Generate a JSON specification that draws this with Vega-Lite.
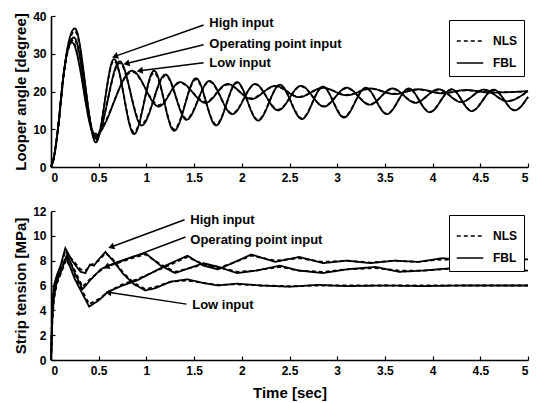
{
  "$schema": "https://vega.github.io/schema/vega-lite/v6.json",
  "background": "white",
  "padding": {"left": 13, "top": 10, "right": 6, "bottom": 4},
  "spacing": 22,
  "config": {
    "view": {"stroke": null},
    "font": "Liberation Sans",
    "axis": {
      "grid": false,
      "domainColor": "black",
      "domainWidth": 1.6,
      "tickColor": "black",
      "tickWidth": 1.2,
      "tickSize": -4,
      "labelPadding": 9,
      "labelOverlap": false,
      "labelColor": "black",
      "labelFont": "Liberation Sans",
      "labelFontSize": 12,
      "labelFontWeight": "bold",
      "titleColor": "black",
      "titleFont": "Liberation Sans",
      "titleFontSize": 15,
      "titleFontWeight": "bold"
    },
    "axisX": {"titlePadding": 9},
    "legend": {
      "title": null,
      "orient": "top-right",
      "offset": 4,
      "strokeColor": "black",
      "fillColor": "white",
      "padding": 7,
      "symbolType": "stroke",
      "symbolSize": 700,
      "symbolStrokeWidth": 1.3,
      "symbolStrokeColor": "black",
      "labelFont": "Liberation Sans",
      "labelFontSize": 12,
      "labelFontWeight": "bold",
      "labelColor": "black",
      "rowPadding": 2,
      "labelOffset": 9
    }
  },
  "resolve": {"legend": {"strokeDash": "independent"}},
  "datasets": {
    "angle": [
      {"input":"High","t":0,"FBL":0,"NLS":0},{"input":"High","t":0.03,"FBL":2.5,"NLS":2.4},{"input":"High","t":0.07,"FBL":9.5,"NLS":9.3},{"input":"High","t":0.13,"FBL":24,"NLS":23.5},{"input":"High","t":0.18,"FBL":32.5,"NLS":32},{"input":"High","t":0.25,"FBL":36.7,"NLS":36},{"input":"High","t":0.47,"FBL":6.5,"NLS":7},{"input":"High","t":0.66,"FBL":28.6,"NLS":28.2},{"input":"High","t":0.87,"FBL":8.7,"NLS":9.2},{"input":"High","t":1.08,"FBL":25.5,"NLS":25},{"input":"High","t":1.29,"FBL":9.6,"NLS":10},{"input":"High","t":1.52,"FBL":23.5,"NLS":23.2},{"input":"High","t":1.73,"FBL":11,"NLS":11.3},{"input":"High","t":1.95,"FBL":22.5,"NLS":22.3},{"input":"High","t":2.17,"FBL":12.3,"NLS":12.5},{"input":"High","t":2.4,"FBL":21.8,"NLS":21.7},{"input":"High","t":2.63,"FBL":12.7,"NLS":12.9},{"input":"High","t":2.85,"FBL":21.3,"NLS":21.2},{"input":"High","t":3.07,"FBL":13.1,"NLS":13.3},{"input":"High","t":3.3,"FBL":21,"NLS":20.9},{"input":"High","t":3.52,"FBL":14,"NLS":14.1},{"input":"High","t":3.75,"FBL":20.8,"NLS":20.7},{"input":"High","t":3.97,"FBL":14.5,"NLS":14.6},{"input":"High","t":4.2,"FBL":20.6,"NLS":20.5},{"input":"High","t":4.41,"FBL":14.8,"NLS":14.9},{"input":"High","t":4.64,"FBL":20.5,"NLS":20.4},{"input":"High","t":4.86,"FBL":15,"NLS":15.1},{"input":"High","t":5,"FBL":18.6,"NLS":18.5},
      {"input":"Operating","t":0,"FBL":0,"NLS":0},{"input":"Operating","t":0.03,"FBL":2.5,"NLS":2.6},{"input":"Operating","t":0.07,"FBL":9.5,"NLS":9.6},{"input":"Operating","t":0.13,"FBL":24,"NLS":24.2},{"input":"Operating","t":0.18,"FBL":31.5,"NLS":31.2},{"input":"Operating","t":0.24,"FBL":34.3,"NLS":33.8},{"input":"Operating","t":0.47,"FBL":7.5,"NLS":8},{"input":"Operating","t":0.72,"FBL":28,"NLS":27.5},{"input":"Operating","t":0.95,"FBL":11,"NLS":11.5},{"input":"Operating","t":1.2,"FBL":24.5,"NLS":24.2},{"input":"Operating","t":1.42,"FBL":12.5,"NLS":12.8},{"input":"Operating","t":1.66,"FBL":22.8,"NLS":22.6},{"input":"Operating","t":1.9,"FBL":14,"NLS":14.2},{"input":"Operating","t":2.14,"FBL":22,"NLS":21.9},{"input":"Operating","t":2.38,"FBL":15,"NLS":15.2},{"input":"Operating","t":2.62,"FBL":21.5,"NLS":21.4},{"input":"Operating","t":2.86,"FBL":16,"NLS":16.1},{"input":"Operating","t":3.1,"FBL":21,"NLS":20.9},{"input":"Operating","t":3.34,"FBL":16.5,"NLS":16.6},{"input":"Operating","t":3.58,"FBL":20.8,"NLS":20.7},{"input":"Operating","t":3.82,"FBL":17,"NLS":17.1},{"input":"Operating","t":4.06,"FBL":20.6,"NLS":20.5},{"input":"Operating","t":4.3,"FBL":17.2,"NLS":17.3},{"input":"Operating","t":4.54,"FBL":20.5,"NLS":20.4},{"input":"Operating","t":4.78,"FBL":17.4,"NLS":17.5},{"input":"Operating","t":5,"FBL":20.2,"NLS":20.1},
      {"input":"Low","t":0,"FBL":0,"NLS":0},{"input":"Low","t":0.03,"FBL":2.5,"NLS":2.4},{"input":"Low","t":0.07,"FBL":9.5,"NLS":9.2},{"input":"Low","t":0.13,"FBL":24,"NLS":23.6},{"input":"Low","t":0.17,"FBL":30.5,"NLS":30},{"input":"Low","t":0.22,"FBL":33,"NLS":33.5},{"input":"Low","t":0.46,"FBL":8.3,"NLS":8.8},{"input":"Low","t":0.85,"FBL":25.5,"NLS":25.2},{"input":"Low","t":1.13,"FBL":16,"NLS":16.4},{"input":"Low","t":1.35,"FBL":22.5,"NLS":22.3},{"input":"Low","t":1.62,"FBL":17,"NLS":17.3},{"input":"Low","t":1.85,"FBL":22,"NLS":21.8},{"input":"Low","t":2.1,"FBL":18,"NLS":18.2},{"input":"Low","t":2.35,"FBL":21.5,"NLS":21.4},{"input":"Low","t":2.6,"FBL":18.5,"NLS":18.6},{"input":"Low","t":2.85,"FBL":21,"NLS":20.9},{"input":"Low","t":3.1,"FBL":19,"NLS":19.1},{"input":"Low","t":3.35,"FBL":20.8,"NLS":20.7},{"input":"Low","t":3.6,"FBL":19.3,"NLS":19.4},{"input":"Low","t":3.85,"FBL":20.6,"NLS":20.5},{"input":"Low","t":4.1,"FBL":19.5,"NLS":19.6},{"input":"Low","t":4.35,"FBL":20.4,"NLS":20.3},{"input":"Low","t":4.6,"FBL":19.7,"NLS":19.8},{"input":"Low","t":5,"FBL":20.1,"NLS":20}
    ],
    "tension": [
      {"input":"High","t":0,"FBL":0,"NLS":0},{"input":"High","t":0.015,"FBL":4.5,"NLS":4.2},{"input":"High","t":0.03,"FBL":6,"NLS":5.8},{"input":"High","t":0.06,"FBL":6.8,"NLS":6.6},{"input":"High","t":0.1,"FBL":7.6,"NLS":7.4},{"input":"High","t":0.15,"FBL":9,"NLS":8.8},{"input":"High","t":0.22,"FBL":8,"NLS":8.1},{"input":"High","t":0.31,"FBL":7.1,"NLS":7.3},{"input":"High","t":0.36,"FBL":7,"NLS":7.2},{"input":"High","t":0.41,"FBL":7.7,"NLS":7.6},{"input":"High","t":0.45,"FBL":7.6,"NLS":7.8},{"input":"High","t":0.5,"FBL":8.1,"NLS":8},{"input":"High","t":0.57,"FBL":8.7,"NLS":8.6},{"input":"High","t":0.65,"FBL":8,"NLS":8.1},{"input":"High","t":0.76,"FBL":6.9,"NLS":7},{"input":"High","t":0.87,"FBL":6.1,"NLS":6.2},{"input":"High","t":0.99,"FBL":5.6,"NLS":5.7},{"input":"High","t":1.1,"FBL":5.8,"NLS":5.9},{"input":"High","t":1.25,"FBL":6.3,"NLS":6.3},{"input":"High","t":1.43,"FBL":6.5,"NLS":6.4},{"input":"High","t":1.6,"FBL":6.2,"NLS":6.2},{"input":"High","t":1.75,"FBL":6,"NLS":6.05},{"input":"High","t":1.95,"FBL":6.15,"NLS":6.1},{"input":"High","t":2.2,"FBL":6,"NLS":6},{"input":"High","t":2.5,"FBL":5.9,"NLS":5.95},{"input":"High","t":2.8,"FBL":6.05,"NLS":6},{"input":"High","t":3.1,"FBL":5.95,"NLS":6},{"input":"High","t":3.5,"FBL":6,"NLS":6},{"input":"High","t":3.9,"FBL":5.95,"NLS":6},{"input":"High","t":4.3,"FBL":6,"NLS":6},{"input":"High","t":4.7,"FBL":6,"NLS":6},{"input":"High","t":5,"FBL":6,"NLS":6},
      {"input":"Operating","t":0,"FBL":0,"NLS":0},{"input":"Operating","t":0.015,"FBL":4,"NLS":3.8},{"input":"Operating","t":0.03,"FBL":5.5,"NLS":5.3},{"input":"Operating","t":0.06,"FBL":6.6,"NLS":6.4},{"input":"Operating","t":0.1,"FBL":7.2,"NLS":7.1},{"input":"Operating","t":0.17,"FBL":8.5,"NLS":8.3},{"input":"Operating","t":0.25,"FBL":7,"NLS":7.2},{"input":"Operating","t":0.33,"FBL":5.7,"NLS":5.9},{"input":"Operating","t":0.42,"FBL":6.5,"NLS":6.6},{"input":"Operating","t":0.52,"FBL":7.3,"NLS":7.2},{"input":"Operating","t":0.6,"FBL":7.6,"NLS":7.6},{"input":"Operating","t":0.7,"FBL":7.9,"NLS":7.8},{"input":"Operating","t":0.85,"FBL":8.3,"NLS":8.2},{"input":"Operating","t":0.99,"FBL":8.6,"NLS":8.5},{"input":"Operating","t":1.15,"FBL":7.6,"NLS":7.7},{"input":"Operating","t":1.3,"FBL":7,"NLS":7.1},{"input":"Operating","t":1.45,"FBL":7.4,"NLS":7.4},{"input":"Operating","t":1.6,"FBL":7.8,"NLS":7.7},{"input":"Operating","t":1.75,"FBL":7.5,"NLS":7.5},{"input":"Operating","t":1.95,"FBL":7,"NLS":7.1},{"input":"Operating","t":2.15,"FBL":7.2,"NLS":7.2},{"input":"Operating","t":2.4,"FBL":7.6,"NLS":7.5},{"input":"Operating","t":2.6,"FBL":7.2,"NLS":7.2},{"input":"Operating","t":2.85,"FBL":7,"NLS":7.1},{"input":"Operating","t":3.1,"FBL":7.3,"NLS":7.3},{"input":"Operating","t":3.4,"FBL":7.5,"NLS":7.4},{"input":"Operating","t":3.65,"FBL":7.1,"NLS":7.2},{"input":"Operating","t":3.9,"FBL":7.2,"NLS":7.2},{"input":"Operating","t":4.2,"FBL":7.4,"NLS":7.35},{"input":"Operating","t":4.5,"FBL":7.2,"NLS":7.2},{"input":"Operating","t":4.8,"FBL":7.25,"NLS":7.25},{"input":"Operating","t":5,"FBL":7.2,"NLS":7.2},
      {"input":"Low","t":0,"FBL":0,"NLS":0},{"input":"Low","t":0.015,"FBL":3.5,"NLS":3.3},{"input":"Low","t":0.03,"FBL":5,"NLS":4.8},{"input":"Low","t":0.06,"FBL":6.3,"NLS":6.1},{"input":"Low","t":0.1,"FBL":7,"NLS":6.9},{"input":"Low","t":0.16,"FBL":8.3,"NLS":8.1},{"input":"Low","t":0.25,"FBL":6.5,"NLS":6.7},{"input":"Low","t":0.4,"FBL":4.3,"NLS":4.5},{"input":"Low","t":0.5,"FBL":4.8,"NLS":4.9},{"input":"Low","t":0.6,"FBL":5.5,"NLS":5.5},{"input":"Low","t":0.75,"FBL":6,"NLS":6.1},{"input":"Low","t":0.9,"FBL":6.4,"NLS":6.5},{"input":"Low","t":1.05,"FBL":7,"NLS":7},{"input":"Low","t":1.2,"FBL":7.6,"NLS":7.5},{"input":"Low","t":1.43,"FBL":8.4,"NLS":8.3},{"input":"Low","t":1.6,"FBL":7.6,"NLS":7.7},{"input":"Low","t":1.75,"FBL":7.3,"NLS":7.4},{"input":"Low","t":1.9,"FBL":7.8,"NLS":7.8},{"input":"Low","t":2.1,"FBL":8.5,"NLS":8.4},{"input":"Low","t":2.35,"FBL":7.9,"NLS":8},{"input":"Low","t":2.6,"FBL":8.3,"NLS":8.2},{"input":"Low","t":2.85,"FBL":7.8,"NLS":7.9},{"input":"Low","t":3.1,"FBL":8,"NLS":8},{"input":"Low","t":3.35,"FBL":7.8,"NLS":7.85},{"input":"Low","t":3.6,"FBL":8,"NLS":8},{"input":"Low","t":3.85,"FBL":7.9,"NLS":7.9},{"input":"Low","t":4.1,"FBL":8.2,"NLS":8.1},{"input":"Low","t":4.4,"FBL":8,"NLS":8},{"input":"Low","t":4.7,"FBL":8.15,"NLS":8.1},{"input":"Low","t":5,"FBL":8.1,"NLS":8.1}
    ],
    "annTop": [
      {"label":"High input","tx":1.66,"ty":38.1,"x1":1.6,"y1":37.6,"x2":0.67,"y2":29.3,"ang":251},
      {"label":"Operating point input","tx":1.66,"ty":32.6,"x1":1.6,"y1":32.4,"x2":0.79,"y2":27.4,"ang":256},
      {"label":"Low input","tx":1.66,"ty":27.5,"x1":1.6,"y1":27.6,"x2":0.93,"y2":25.5,"ang":262}
    ],
    "annBottom": [
      {"label":"High input","tx":1.46,"ty":11.3,"x1":1.4,"y1":11.3,"x2":0.63,"y2":9.1,"ang":250},
      {"label":"Operating point input","tx":1.46,"ty":9.7,"x1":1.41,"y1":9.9,"x2":0.58,"y2":7.5,"ang":249},
      {"label":"Low input","tx":1.48,"ty":4.4,"x1":1.42,"y1":4.5,"x2":0.6,"y2":5.45,"ang":278}
    ]
  },
  "vconcat": [
    {
      "width": 477,
      "height": 151,
      "layer": [
        {
          "data": {"name": "angle"},
          "transform": [{"fold": ["NLS", "FBL"], "as": ["ctrl", "value"]}],
          "mark": {"type": "line", "interpolate": "monotone", "color": "black", "strokeWidth": 1.8},
          "encoding": {
            "x": {"field": "t", "type": "quantitative", "title": null, "scale": {"domain": [0, 5], "nice": false}, "axis": {"values": [0,0.5,1,1.5,2,2.5,3,3.5,4,4.5,5], "format": "~g"}},
            "y": {"field": "value", "type": "quantitative", "title": "Looper angle [degree]", "scale": {"domain": [0, 40], "nice": false}, "axis": {"values": [0,10,20,30,40]}},
            "strokeDash": {"field": "ctrl", "type": "nominal", "scale": {"domain": ["NLS", "FBL"], "range": [[4, 3], [1, 0]]}},
            "detail": {"field": "input"}
          }
        },
        {
          "data": {"name": "annTop"},
          "mark": {"type": "rule", "color": "black", "strokeWidth": 1.5},
          "encoding": {
            "x": {"field": "x1", "type": "quantitative", "title": null, "axis": {"values": [0,0.5,1,1.5,2,2.5,3,3.5,4,4.5,5], "format": "~g"}},
            "y": {"field": "y1", "type": "quantitative", "title": "Looper angle [degree]", "axis": {"values": [0,10,20,30,40]}},
            "x2": {"field": "x2"},
            "y2": {"field": "y2"}
          }
        },
        {
          "data": {"name": "annTop"},
          "mark": {"type": "point", "shape": "triangle-up", "filled": true, "color": "black", "size": 50, "opacity": 1},
          "encoding": {
            "x": {"field": "x2", "type": "quantitative", "title": null, "axis": {"values": [0,0.5,1,1.5,2,2.5,3,3.5,4,4.5,5], "format": "~g"}},
            "y": {"field": "y2", "type": "quantitative", "title": "Looper angle [degree]", "axis": {"values": [0,10,20,30,40]}},
            "angle": {"field": "ang", "type": "quantitative", "scale": null}
          }
        },
        {
          "data": {"name": "annTop"},
          "mark": {"type": "text", "align": "left", "baseline": "middle", "font": "Liberation Sans", "fontSize": 13, "fontWeight": "bold", "color": "black"},
          "encoding": {
            "x": {"field": "tx", "type": "quantitative", "title": null, "axis": {"values": [0,0.5,1,1.5,2,2.5,3,3.5,4,4.5,5], "format": "~g"}},
            "y": {"field": "ty", "type": "quantitative", "title": "Looper angle [degree]", "axis": {"values": [0,10,20,30,40]}},
            "text": {"field": "label"}
          }
        }
      ]
    },
    {
      "width": 477,
      "height": 149,
      "layer": [
        {
          "data": {"name": "tension"},
          "transform": [{"fold": ["NLS", "FBL"], "as": ["ctrl", "value"]}],
          "mark": {"type": "line", "interpolate": "linear", "color": "black", "strokeWidth": 1.8},
          "encoding": {
            "x": {"field": "t", "type": "quantitative", "title": "Time [sec]", "scale": {"domain": [0, 5], "nice": false}, "axis": {"values": [0,0.5,1,1.5,2,2.5,3,3.5,4,4.5,5], "format": "~g"}},
            "y": {"field": "value", "type": "quantitative", "title": "Strip tension [MPa]", "scale": {"domain": [0, 12], "nice": false}, "axis": {"values": [0,2,4,6,8,10,12]}},
            "strokeDash": {"field": "ctrl", "type": "nominal", "scale": {"domain": ["NLS", "FBL"], "range": [[4, 3], [1, 0]]}},
            "detail": {"field": "input"}
          }
        },
        {
          "data": {"name": "annBottom"},
          "mark": {"type": "rule", "color": "black", "strokeWidth": 1.5},
          "encoding": {
            "x": {"field": "x1", "type": "quantitative", "title": "Time [sec]", "axis": {"values": [0,0.5,1,1.5,2,2.5,3,3.5,4,4.5,5], "format": "~g"}},
            "y": {"field": "y1", "type": "quantitative", "title": "Strip tension [MPa]", "axis": {"values": [0,2,4,6,8,10,12]}},
            "x2": {"field": "x2"},
            "y2": {"field": "y2"}
          }
        },
        {
          "data": {"name": "annBottom"},
          "mark": {"type": "point", "shape": "triangle-up", "filled": true, "color": "black", "size": 50, "opacity": 1},
          "encoding": {
            "x": {"field": "x2", "type": "quantitative", "title": "Time [sec]", "axis": {"values": [0,0.5,1,1.5,2,2.5,3,3.5,4,4.5,5], "format": "~g"}},
            "y": {"field": "y2", "type": "quantitative", "title": "Strip tension [MPa]", "axis": {"values": [0,2,4,6,8,10,12]}},
            "angle": {"field": "ang", "type": "quantitative", "scale": null}
          }
        },
        {
          "data": {"name": "annBottom"},
          "mark": {"type": "text", "align": "left", "baseline": "middle", "font": "Liberation Sans", "fontSize": 13, "fontWeight": "bold", "color": "black"},
          "encoding": {
            "x": {"field": "tx", "type": "quantitative", "title": "Time [sec]", "axis": {"values": [0,0.5,1,1.5,2,2.5,3,3.5,4,4.5,5], "format": "~g"}},
            "y": {"field": "ty", "type": "quantitative", "title": "Strip tension [MPa]", "axis": {"values": [0,2,4,6,8,10,12]}},
            "text": {"field": "label"}
          }
        }
      ]
    }
  ]
}
